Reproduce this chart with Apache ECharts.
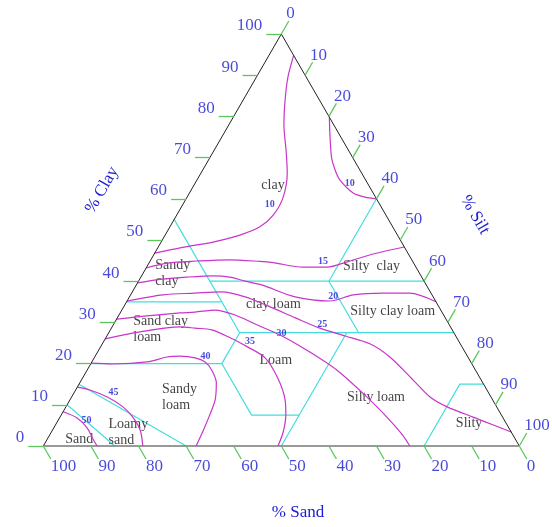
<!DOCTYPE html>
<html>
<head>
<meta charset="utf-8">
<script src="https://cdn.jsdelivr.net/npm/echarts@6/dist/echarts.min.js"></script>
<style>
  html, body { margin: 0; padding: 0; background: #fff; }
  #main { width: 552px; height: 527px; }
</style>
</head>
<body>
<div id="main"></div>
<script>
// every point is [clay %, silt %]; sand = 100 - clay - silt
const tickValues = [0, 10, 20, 30, 40, 50, 60, 70, 80, 90, 100];

// magenta iso-lines
const contour10Left = [[46.8, 0], [48.1, 4.7], [49.5, 10.9], [51.2, 15.7], [53.2, 18.9], [56.1, 20.3], [60.4, 20.2], [66.3, 18.1], [71.8, 15.1], [77.9, 11.6], [84.0, 8.8], [89.6, 6.6], [94.8, 5.2]];
const contour10Right = [[79.8, 20.2], [76.0, 22.2], [70.1, 25.5], [67.0, 27.8], [64.6, 30.0], [61.4, 34.4], [60.4, 37.4], [60.0, 40.0]];
const contour15 = [[43.2, 0], [44.4, 3.8], [44.9, 9.8], [45.2, 16.5], [44.8, 23.1], [44.5, 26.0], [43.4, 32.9], [43.4, 37.9], [44.7, 41.5], [46.6, 46.0], [48.3, 51.7]];
const contour20 = [[39.6, 0], [40.5, 4.8], [41.0, 9.7], [41.3, 15.1], [41.0, 18.7], [40.0, 22.4], [39.1, 26.3], [36.2, 34.8], [35.2, 42.6], [36.7, 46.8], [37.1, 52.8], [37.1, 58.4], [35.0, 65.0]];
const contour25 = [[35.2, 0], [36.7, 6.8], [37.1, 13.3], [37.4, 18.8], [36.2, 24.3], [34.0, 30.2], [31.1, 37.4], [28.6, 43.8], [26.7, 50.1], [24.8, 56.2], [21.6, 62.0], [16.0, 69.7], [11.9, 75.3], [9.5, 80.1], [7.0, 86.8], [5.1, 92.0], [3.4, 96.6]];
const contour30 = [[30.8, 0], [31.6, 6.0], [32.3, 12.6], [32.5, 15.6], [33.0, 19.6], [31.8, 24.4], [29.6, 29.7], [26.9, 36.4], [23.8, 42.7], [18.4, 52.5], [11.2, 63.0], [6.3, 69.6], [2.7, 74.1], [0, 77.0]];
const contour35 = [[26.0, 0], [27.7, 6.5], [28.9, 14.3], [28.6, 17.6], [28.2, 21.3], [26.5, 25.6], [24.0, 31.0], [21.4, 35.9], [16.5, 41.0], [11.2, 45.2], [7.5, 47.2], [3.4, 48.7], [0, 49.3]];
const contour40 = [[20.1, 0], [19.9, 4.6], [20.4, 11.6], [21.6, 15.2], [21.8, 17.8], [21.4, 21.2], [20.4, 23.8], [18.4, 26.2], [15.3, 28.7], [11.2, 30.5], [7.5, 31.2], [3.9, 31.7], [0, 32.1]];
const contour45 = [[14.3, 0], [13.6, 3.0], [11.9, 7.5], [9.5, 12.0], [7.0, 15.3], [3.9, 18.4], [0, 20.9]];
const contour50 = [[8.3, 0], [6.8, 3.7], [4.4, 7.0], [1.9, 9.4], [0, 11.3]];

const contourLabels = ['10', '10', '15', '20', '25', '30', '35', '40', '45', '50'];
const contourLabelAt = [[58.7, 18.2], [63.8, 32.5], [44.9, 36.3], [36.4, 42.7], [29.4, 43.9], [27.3, 36.4], [25.5, 30.7], [21.8, 23.2], [12.9, 8.3], [6.2, 6.0]];

// cyan texture-class boundaries
const sand45Line = [[55, 0], [27.5, 27.5]];
const clay40Line = [[40, 15], [40, 60]];
const clay35Line = [[35, 0], [35, 20]];
const clay275Line = [[27.5, 27.5], [27.5, 72.5]];
const sand20Line = [[40, 40], [27.5, 52.5]];
const silt40Line = [[40, 40], [60, 40]];
const loamLeftLine = [[27.5, 27.5], [20, 27.5], [7.5, 40], [7.5, 50]];
const clay20Line = [[20, 0], [20, 27.5]];
const silt50Line = [[0, 50], [27.5, 50]];
const siltBoxLine = [[0, 80], [15, 80], [15, 85]];
const loamySandLine = [[15, 0], [0, 30]];
const sandLine = [[10, 0], [0, 15]];

const classNames = ['clay', 'Silty  clay', 'clay loam', 'Silty clay loam', 'Loam', 'Silty loam', 'Sand', 'Slity'];
const classAt = [[63.3, 16.6], [43.7, 47.1], [34.5, 31.1], [32.8, 57.0], [20.7, 38.5], [11.8, 64.0], [1.7, 6.7], [5.5, 86.7]];
// two-line names, left aligned
const classNamesLeft = ['Sandy\nclay', 'Sand clay\nloam', 'Sandy\nloam', 'Loamy\nsand'];
const classLeftAt = [[42.0, 2.5], [28.4, 4.7], [11.7, 19.1], [3.2, 12.1]];

const SQ3 = Math.sqrt(3) / 2;
const toXY = p => [p[1] + p[0] / 2, p[0] * SQ3];
const TICK = 3.15;
const SERIF = '"Liberation Serif", "Times New Roman", serif';
const BLUE = '#1a1ad2';
const MAGENTA = '#c935c9';
const CYAN = '#44dddd';
const GREEN = '#5cc85c';

const contours = [contour10Left, contour10Right, contour15, contour20, contour25, contour30, contour35, contour40, contour45, contour50];
const boundaries = [sand45Line, clay40Line, clay35Line, clay275Line, sand20Line, silt40Line, loamLeftLine, clay20Line, silt50Line, siltBoxLine, loamySandLine, sandLine];

const clayTicks = tickValues.map(v => {
  const a = toXY([v, 0]);
  return [a, [a[0] - TICK, a[1]]];
});
const siltTicks = tickValues.map(v => {
  const a = toXY([100 - v, v]);
  return [a, [a[0] + TICK * 0.5, a[1] + TICK * SQ3]];
});
const sandTicks = tickValues.map(v => {
  const a = toXY([0, 100 - v]);
  return [a, [a[0] + TICK * 0.5, a[1] - TICK * SQ3]];
});

function labelSeries(data, label) {
  return {
    type: 'scatter',
    symbolSize: 0,
    clip: false,
    silent: true,
    data: data,
    label: Object.assign({
      show: true,
      formatter: '{b}',
      position: 'inside',
      fontFamily: SERIF
    }, label)
  };
}

const chart = echarts.init(document.getElementById('main'), null, { renderer: 'canvas' });

const series = [];

series.push({
  type: 'lines',
  coordinateSystem: 'cartesian2d',
  polyline: true,
  clip: false,
  silent: true,
  data: boundaries.map(b => ({ coords: b.map(toXY) })),
  lineStyle: { color: CYAN, width: 1.2, opacity: 1 },
  z: 2
});

contours.forEach(c => {
  series.push({
    type: 'line',
    data: c.map(toXY),
    smooth: 0.3,
    showSymbol: false,
    symbol: 'none',
    clip: false,
    silent: true,
    lineStyle: { color: MAGENTA, width: 1.2 },
    z: 3
  });
});

series.push({
  type: 'lines',
  coordinateSystem: 'cartesian2d',
  clip: false,
  silent: true,
  data: [
    { coords: [toXY([0, 0]), toXY([100, 0])] },
    { coords: [toXY([100, 0]), toXY([0, 100])] }
  ],
  lineStyle: { color: '#222', width: 1, opacity: 1 },
  z: 4
});
series.push({
  type: 'lines',
  coordinateSystem: 'cartesian2d',
  clip: false,
  silent: true,
  data: [{ coords: [toXY([0, 0]), toXY([0, 100])] }],
  lineStyle: { color: '#777', width: 1.5, opacity: 1 },
  z: 4
});

series.push({
  type: 'lines',
  coordinateSystem: 'cartesian2d',
  clip: false,
  silent: true,
  data: clayTicks.concat(siltTicks, sandTicks).map(t => ({ coords: t })),
  lineStyle: { color: GREEN, width: 1.3, opacity: 1 },
  z: 4
});

// tick labels
series.push(labelSeries(
  clayTicks.map((t, i) => ({ name: String(tickValues[i]), value: t[1] })),
  { align: 'right', verticalAlign: 'middle', offset: [-4, -8], color: BLUE, fontSize: 17 }
));
series.push(labelSeries(
  siltTicks.map((t, i) => ({ name: String(tickValues[i]), value: t[1] })),
  { align: 'left', verticalAlign: 'middle', offset: [-2.5, -7], color: BLUE, fontSize: 17 }
));
series.push(labelSeries(
  sandTicks.map((t, i) => ({ name: String(tickValues[i]), value: t[1] })),
  { align: 'left', verticalAlign: 'middle', offset: [0, 7.5], color: BLUE, fontSize: 17 }
));

// contour labels
series.push(labelSeries(
  contourLabels.map((n, i) => ({ name: n, value: toXY(contourLabelAt[i]) })),
  { align: 'center', verticalAlign: 'middle', color: BLUE, fontSize: 10, fontWeight: 'bold' }
));

// class names
series.push(labelSeries(
  classNames.map((n, i) => ({ name: n, value: toXY(classAt[i]) })),
  { align: 'center', verticalAlign: 'middle', color: '#111', fontSize: 14 }
));
series.push(labelSeries(
  classNamesLeft.map((n, i) => ({ name: n, value: toXY(classLeftAt[i]) })),
  { align: 'left', verticalAlign: 'middle', color: '#111', fontSize: 14, lineHeight: 16 }
));

const option = {
  backgroundColor: '#fff',
  animation: false,
  grid: { left: 43.3, top: 34, width: 476, height: 412 },
  xAxis: { type: 'value', min: 0, max: 100, show: false },
  yAxis: { type: 'value', min: 0, max: 100 * SQ3, show: false },
  graphic: [
    {
      type: 'text', x: 102, y: 190, rotation: Math.PI / 3,
      style: { text: '% Clay', fill: BLUE, font: '17px ' + SERIF, align: 'center', verticalAlign: 'middle' }
    },
    {
      type: 'text', x: 475, y: 215, rotation: -Math.PI / 3,
      style: { text: '% Silt', fill: BLUE, font: '17px ' + SERIF, align: 'center', verticalAlign: 'middle' }
    },
    {
      type: 'text', x: 298, y: 513,
      style: { text: '% Sand', fill: BLUE, font: '17px ' + SERIF, align: 'center', verticalAlign: 'middle' }
    }
  ],
  series: series
};

chart.setOption(option);
</script>
</body>
</html>
